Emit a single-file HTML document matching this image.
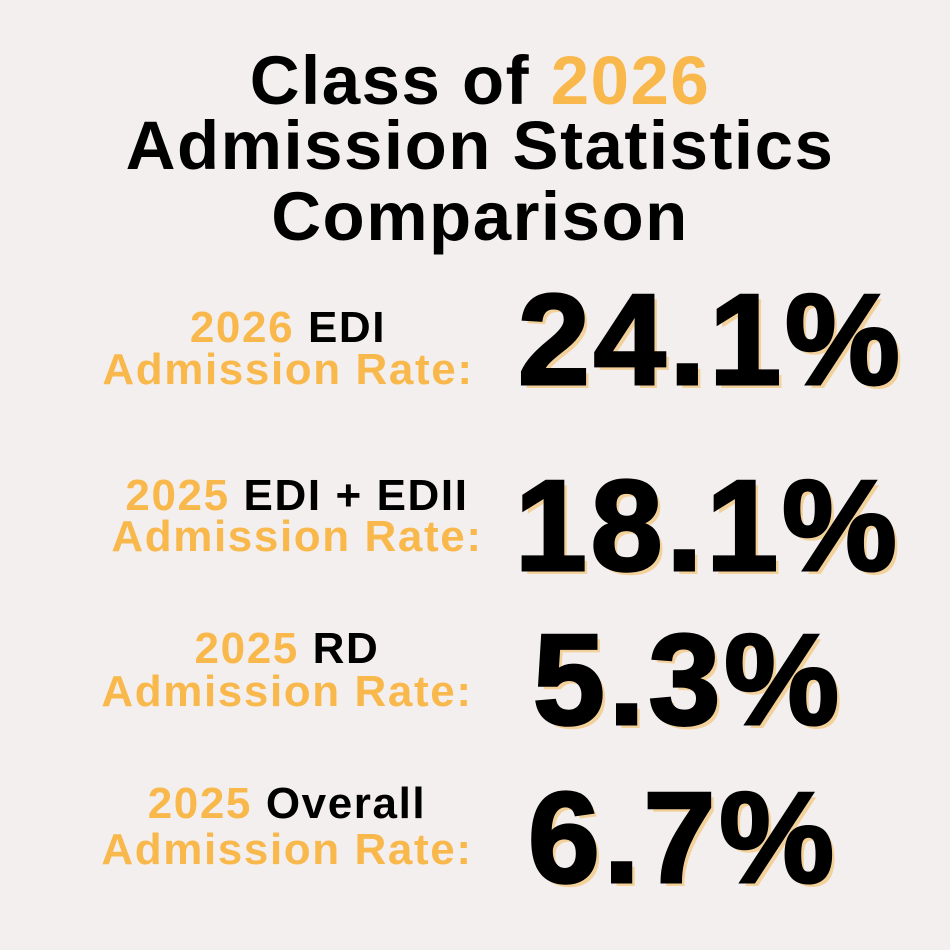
<!DOCTYPE html>
<html><head><meta charset="utf-8"><style>
body{margin:0;width:950px;height:950px;background:#f4efef;overflow:hidden;position:relative;font-family:"Liberation Sans",sans-serif;font-weight:bold}
.t{position:absolute;left:0;width:960px;text-align:center;font-size:69px;line-height:1;letter-spacing:1.5px;color:#000;white-space:nowrap}
.o{color:#f8b84c}
.l{position:absolute;width:600px;text-align:center;font-size:44px;line-height:1;letter-spacing:1.6px;color:#f8b84c;white-space:nowrap}
.l .k{color:#000}
.n{position:absolute;font-size:129px;line-height:1;color:#000;-webkit-text-stroke:3px #000;text-shadow:4px 4px 0 #f3d19a;white-space:nowrap;letter-spacing:4px}
</style></head><body>
<div class="t" style="top:46px">Class of <span class="o">2026</span></div>
<div class="t" style="top:111px">Admission Statistics</div>
<div class="t" style="top:182px">Comparison</div>

<div class="l" style="left:-12px;top:306px"><span>2026</span> <span class="k">EDI</span></div>
<div class="l" style="left:-12px;top:348px">Admission Rate:</div>
<div class="n" style="left:518px;top:276px">24.1%</div>

<div class="l" style="left:-3px;top:474px"><span>2025</span> <span class="k">EDI + EDII</span></div>
<div class="l" style="left:-3px;top:515px">Admission Rate:</div>
<div class="n" style="left:515px;top:462px">18.1%</div>

<div class="l" style="left:-13px;top:627px"><span>2025</span> <span class="k">RD</span></div>
<div class="l" style="left:-13px;top:670px">Admission Rate:</div>
<div class="n" style="left:533px;top:616px">5.3%</div>

<div class="l" style="left:-13px;top:782px"><span>2025</span> <span class="k">Overall</span></div>
<div class="l" style="left:-13px;top:828px">Admission Rate:</div>
<div class="n" style="left:528px;top:774px">6.7%</div>
</body></html>
